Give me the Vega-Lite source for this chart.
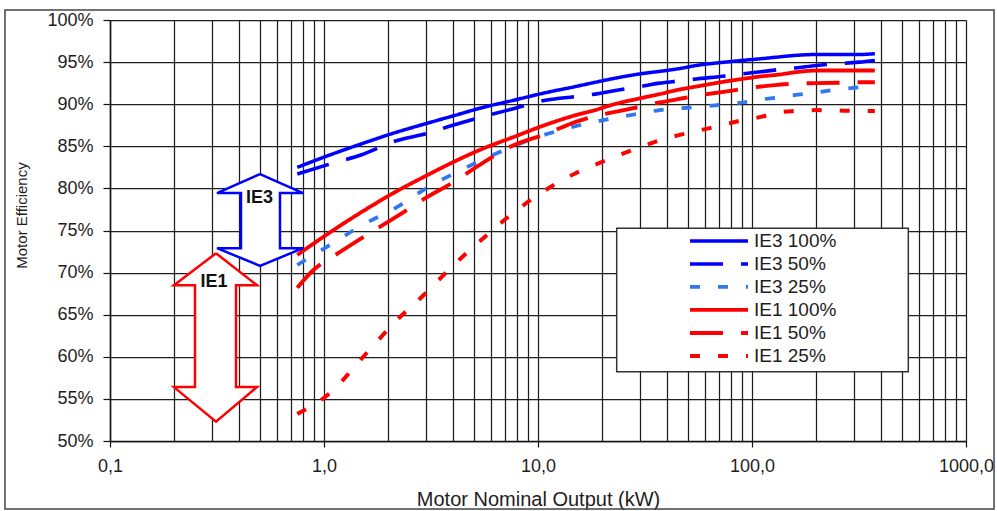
{
  "$schema": "https://vega.github.io/schema/vega-lite/v6.json",
  "width": 856,
  "height": 421,
  "autosize": {"type": "none"},
  "padding": {"left": 110, "top": 20, "right": 31, "bottom": 70},
  "background": "white",
  "config": {
    "view": {"stroke": null},
    "font": "Liberation Sans",
    "axis": {"gridColor": "#1e1e1e", "gridWidth": 1.25, "gridOpacity": 1, "domainColor": "#111111", "domainWidth": 1.5, "tickColor": "#111111", "tickWidth": 1.2, "labelColor": "#1e1e1e", "titleColor": "#1e1e1e", "labelFont": "Liberation Sans", "titleFont": "Liberation Sans", "titleFontWeight": "normal"},
    "legend": {"orient": "none", "legendX": 578, "legendY": 209.6, "padding": 0, "symbolType": "stroke", "symbolSize": 3364, "labelFontSize": 19, "labelFont": "Liberation Sans", "labelColor": "#1e1e1e", "labelOffset": 4, "clipHeight": 22.7, "rowPadding": 0, "strokeColor": null, "fillColor": null}
  },
  "datasets": {
    "frame": [{"kW": 0.0323, "kW2": 1352, "eff": 41.92, "eff2": 101.19}],
    "legendbox": [{"kW": 23.32, "kW2": 537.6, "eff": 58.23, "eff2": 75.26}],
    "arrows": [
      {"arrow": "IE3", "i": 1, "kW": 0.5024, "eff": 81.7},
      {"arrow": "IE3", "i": 2, "kW": 0.7979, "eff": 79.45},
      {"arrow": "IE3", "i": 3, "kW": 0.6228, "eff": 79.45},
      {"arrow": "IE3", "i": 4, "kW": 0.6228, "eff": 72.9},
      {"arrow": "IE3", "i": 5, "kW": 0.7979, "eff": 72.9},
      {"arrow": "IE3", "i": 6, "kW": 0.5024, "eff": 70.8},
      {"arrow": "IE3", "i": 7, "kW": 0.3162, "eff": 72.9},
      {"arrow": "IE3", "i": 8, "kW": 0.4093, "eff": 72.9},
      {"arrow": "IE3", "i": 9, "kW": 0.4093, "eff": 79.45},
      {"arrow": "IE3", "i": 10, "kW": 0.3162, "eff": 79.45},
      {"arrow": "IE3", "i": 11, "kW": 0.5024, "eff": 81.7},
      {"arrow": "IE1", "i": 1, "kW": 0.3128, "eff": 72.3},
      {"arrow": "IE1", "i": 2, "kW": 0.4862, "eff": 68.5},
      {"arrow": "IE1", "i": 3, "kW": 0.388, "eff": 68.5},
      {"arrow": "IE1", "i": 4, "kW": 0.388, "eff": 56.4},
      {"arrow": "IE1", "i": 5, "kW": 0.4862, "eff": 56.4},
      {"arrow": "IE1", "i": 6, "kW": 0.3128, "eff": 52.3},
      {"arrow": "IE1", "i": 7, "kW": 0.199, "eff": 56.4},
      {"arrow": "IE1", "i": 8, "kW": 0.2495, "eff": 56.4},
      {"arrow": "IE1", "i": 9, "kW": 0.2495, "eff": 68.5},
      {"arrow": "IE1", "i": 10, "kW": 0.199, "eff": 68.5},
      {"arrow": "IE1", "i": 11, "kW": 0.3128, "eff": 72.3}
    ],
    "labels": [
      {"label": "IE3", "kW": 0.5, "eff": 78.9},
      {"label": "IE1", "kW": 0.306, "eff": 68.9}
    ],
    "curves": [
      {"series": "IE3 100%", "kW": 0.75, "eff": 82.5},
      {"series": "IE3 100%", "kW": 1.1, "eff": 84.1},
      {"series": "IE3 100%", "kW": 1.5, "eff": 85.3},
      {"series": "IE3 100%", "kW": 2.2, "eff": 86.7},
      {"series": "IE3 100%", "kW": 3, "eff": 87.7},
      {"series": "IE3 100%", "kW": 4, "eff": 88.6},
      {"series": "IE3 100%", "kW": 5.5, "eff": 89.6},
      {"series": "IE3 100%", "kW": 7.5, "eff": 90.4},
      {"series": "IE3 100%", "kW": 11, "eff": 91.4},
      {"series": "IE3 100%", "kW": 15, "eff": 92.1},
      {"series": "IE3 100%", "kW": 18.5, "eff": 92.6},
      {"series": "IE3 100%", "kW": 22, "eff": 93.0},
      {"series": "IE3 100%", "kW": 30, "eff": 93.6},
      {"series": "IE3 100%", "kW": 37, "eff": 93.9},
      {"series": "IE3 100%", "kW": 45, "eff": 94.2},
      {"series": "IE3 100%", "kW": 55, "eff": 94.6},
      {"series": "IE3 100%", "kW": 75, "eff": 95.0},
      {"series": "IE3 100%", "kW": 90, "eff": 95.2},
      {"series": "IE3 100%", "kW": 110, "eff": 95.4},
      {"series": "IE3 100%", "kW": 132, "eff": 95.6},
      {"series": "IE3 100%", "kW": 160, "eff": 95.8},
      {"series": "IE3 100%", "kW": 200, "eff": 95.9},
      {"series": "IE3 100%", "kW": 250, "eff": 95.9},
      {"series": "IE3 100%", "kW": 315, "eff": 95.9},
      {"series": "IE3 100%", "kW": 375, "eff": 96.0},
      {"series": "IE3 50%", "kW": 0.75, "eff": 81.7},
      {"series": "IE3 50%", "kW": 1.1, "eff": 83.0},
      {"series": "IE3 50%", "kW": 1.5, "eff": 84.0},
      {"series": "IE3 50%", "kW": 2.2, "eff": 85.7},
      {"series": "IE3 50%", "kW": 3, "eff": 86.5},
      {"series": "IE3 50%", "kW": 4, "eff": 87.5},
      {"series": "IE3 50%", "kW": 5.5, "eff": 88.5},
      {"series": "IE3 50%", "kW": 7.5, "eff": 89.4},
      {"series": "IE3 50%", "kW": 11, "eff": 90.5},
      {"series": "IE3 50%", "kW": 15, "eff": 90.9},
      {"series": "IE3 50%", "kW": 18.5, "eff": 91.2},
      {"series": "IE3 50%", "kW": 22, "eff": 91.55},
      {"series": "IE3 50%", "kW": 30, "eff": 92.1},
      {"series": "IE3 50%", "kW": 37, "eff": 92.5},
      {"series": "IE3 50%", "kW": 45, "eff": 92.75},
      {"series": "IE3 50%", "kW": 55, "eff": 93.0},
      {"series": "IE3 50%", "kW": 75, "eff": 93.35},
      {"series": "IE3 50%", "kW": 90, "eff": 93.6},
      {"series": "IE3 50%", "kW": 110, "eff": 93.85},
      {"series": "IE3 50%", "kW": 132, "eff": 94.1},
      {"series": "IE3 50%", "kW": 160, "eff": 94.3},
      {"series": "IE3 50%", "kW": 200, "eff": 94.6},
      {"series": "IE3 50%", "kW": 250, "eff": 94.8},
      {"series": "IE3 50%", "kW": 315, "eff": 95.0},
      {"series": "IE3 50%", "kW": 375, "eff": 95.2},
      {"series": "IE3 25%", "kW": 0.75, "eff": 70.9},
      {"series": "IE3 25%", "kW": 1.1, "eff": 73.5},
      {"series": "IE3 25%", "kW": 1.5, "eff": 75.6},
      {"series": "IE3 25%", "kW": 2.2, "eff": 77.8},
      {"series": "IE3 25%", "kW": 3, "eff": 80.0},
      {"series": "IE3 25%", "kW": 4, "eff": 81.7},
      {"series": "IE3 25%", "kW": 5.5, "eff": 83.4},
      {"series": "IE3 25%", "kW": 7.5, "eff": 84.9},
      {"series": "IE3 25%", "kW": 11, "eff": 86.45},
      {"series": "IE3 25%", "kW": 15, "eff": 87.4},
      {"series": "IE3 25%", "kW": 18.5, "eff": 87.9},
      {"series": "IE3 25%", "kW": 22, "eff": 88.3},
      {"series": "IE3 25%", "kW": 30, "eff": 88.9},
      {"series": "IE3 25%", "kW": 37, "eff": 89.3},
      {"series": "IE3 25%", "kW": 45, "eff": 89.5},
      {"series": "IE3 25%", "kW": 55, "eff": 89.65},
      {"series": "IE3 25%", "kW": 75, "eff": 90.0},
      {"series": "IE3 25%", "kW": 90, "eff": 90.2},
      {"series": "IE3 25%", "kW": 110, "eff": 90.55},
      {"series": "IE3 25%", "kW": 132, "eff": 90.8},
      {"series": "IE3 25%", "kW": 160, "eff": 91.1},
      {"series": "IE3 25%", "kW": 200, "eff": 91.4},
      {"series": "IE3 25%", "kW": 250, "eff": 91.75},
      {"series": "IE3 25%", "kW": 315, "eff": 92.0},
      {"series": "IE3 25%", "kW": 375, "eff": 92.2},
      {"series": "IE1 100%", "kW": 0.75, "eff": 72.1},
      {"series": "IE1 100%", "kW": 1.1, "eff": 75.0},
      {"series": "IE1 100%", "kW": 1.5, "eff": 77.2},
      {"series": "IE1 100%", "kW": 2.2, "eff": 79.7},
      {"series": "IE1 100%", "kW": 3, "eff": 81.5},
      {"series": "IE1 100%", "kW": 4, "eff": 83.1},
      {"series": "IE1 100%", "kW": 5.5, "eff": 84.7},
      {"series": "IE1 100%", "kW": 7.5, "eff": 86.0},
      {"series": "IE1 100%", "kW": 11, "eff": 87.6},
      {"series": "IE1 100%", "kW": 15, "eff": 88.7},
      {"series": "IE1 100%", "kW": 18.5, "eff": 89.3},
      {"series": "IE1 100%", "kW": 22, "eff": 89.9},
      {"series": "IE1 100%", "kW": 30, "eff": 90.7},
      {"series": "IE1 100%", "kW": 37, "eff": 91.2},
      {"series": "IE1 100%", "kW": 45, "eff": 91.7},
      {"series": "IE1 100%", "kW": 55, "eff": 92.1},
      {"series": "IE1 100%", "kW": 75, "eff": 92.7},
      {"series": "IE1 100%", "kW": 90, "eff": 93.0},
      {"series": "IE1 100%", "kW": 110, "eff": 93.3},
      {"series": "IE1 100%", "kW": 132, "eff": 93.5},
      {"series": "IE1 100%", "kW": 160, "eff": 93.8},
      {"series": "IE1 100%", "kW": 200, "eff": 94.0},
      {"series": "IE1 100%", "kW": 250, "eff": 94.0},
      {"series": "IE1 100%", "kW": 315, "eff": 94.0},
      {"series": "IE1 100%", "kW": 375, "eff": 94.0},
      {"series": "IE1 50%", "kW": 0.75, "eff": 68.2},
      {"series": "IE1 50%", "kW": 0.9, "eff": 70.4},
      {"series": "IE1 50%", "kW": 1.1, "eff": 71.9},
      {"series": "IE1 50%", "kW": 1.5, "eff": 74.1},
      {"series": "IE1 50%", "kW": 2.2, "eff": 76.7},
      {"series": "IE1 50%", "kW": 3, "eff": 78.9},
      {"series": "IE1 50%", "kW": 4, "eff": 80.7},
      {"series": "IE1 50%", "kW": 5.5, "eff": 83.0},
      {"series": "IE1 50%", "kW": 7.5, "eff": 85.0},
      {"series": "IE1 50%", "kW": 11, "eff": 86.5},
      {"series": "IE1 50%", "kW": 15, "eff": 87.9},
      {"series": "IE1 50%", "kW": 18.5, "eff": 88.6},
      {"series": "IE1 50%", "kW": 22, "eff": 89.0},
      {"series": "IE1 50%", "kW": 30, "eff": 89.7},
      {"series": "IE1 50%", "kW": 37, "eff": 90.2},
      {"series": "IE1 50%", "kW": 45, "eff": 90.6},
      {"series": "IE1 50%", "kW": 55, "eff": 91.0},
      {"series": "IE1 50%", "kW": 75, "eff": 91.5},
      {"series": "IE1 50%", "kW": 90, "eff": 91.8},
      {"series": "IE1 50%", "kW": 110, "eff": 92.1},
      {"series": "IE1 50%", "kW": 132, "eff": 92.3},
      {"series": "IE1 50%", "kW": 160, "eff": 92.45},
      {"series": "IE1 50%", "kW": 200, "eff": 92.5},
      {"series": "IE1 50%", "kW": 250, "eff": 92.55},
      {"series": "IE1 50%", "kW": 315, "eff": 92.6},
      {"series": "IE1 50%", "kW": 375, "eff": 92.6},
      {"series": "IE1 25%", "kW": 0.75, "eff": 53.2},
      {"series": "IE1 25%", "kW": 1.1, "eff": 56.0},
      {"series": "IE1 25%", "kW": 1.5, "eff": 59.8},
      {"series": "IE1 25%", "kW": 2.2, "eff": 64.4},
      {"series": "IE1 25%", "kW": 3, "eff": 67.6},
      {"series": "IE1 25%", "kW": 4, "eff": 70.8},
      {"series": "IE1 25%", "kW": 5.5, "eff": 74.0},
      {"series": "IE1 25%", "kW": 7.5, "eff": 76.9},
      {"series": "IE1 25%", "kW": 11, "eff": 79.9},
      {"series": "IE1 25%", "kW": 15, "eff": 81.8},
      {"series": "IE1 25%", "kW": 18.5, "eff": 82.8},
      {"series": "IE1 25%", "kW": 22, "eff": 83.6},
      {"series": "IE1 25%", "kW": 30, "eff": 84.9},
      {"series": "IE1 25%", "kW": 37, "eff": 85.7},
      {"series": "IE1 25%", "kW": 45, "eff": 86.3},
      {"series": "IE1 25%", "kW": 55, "eff": 86.8},
      {"series": "IE1 25%", "kW": 75, "eff": 87.6},
      {"series": "IE1 25%", "kW": 90, "eff": 88.1},
      {"series": "IE1 25%", "kW": 110, "eff": 88.5},
      {"series": "IE1 25%", "kW": 132, "eff": 89.0},
      {"series": "IE1 25%", "kW": 160, "eff": 89.2},
      {"series": "IE1 25%", "kW": 200, "eff": 89.3},
      {"series": "IE1 25%", "kW": 250, "eff": 89.25},
      {"series": "IE1 25%", "kW": 315, "eff": 89.2},
      {"series": "IE1 25%", "kW": 375, "eff": 89.2}
    ]
  },
  "layer": [
    {
      "data": {"name": "frame"},
      "mark": {"type": "rect", "fill": null, "filled": false, "stroke": "#444444", "strokeWidth": 1.5, "clip": false},
      "encoding": {
        "x": {"field": "kW", "type": "quantitative", "title": "Motor Nominal Output (kW)", "scale": {"type": "log", "domain": [0.1, 1000], "nice": false}},
        "x2": {"field": "kW2"},
        "y": {"field": "eff", "type": "quantitative", "title": "Motor Efficiency", "scale": {"domain": [50, 100], "nice": false, "zero": false}},
        "y2": {"field": "eff2"}
      }
    },
    {
      "data": {"name": "legendbox"},
      "mark": {"type": "rect", "fill": "white", "stroke": "#333333", "strokeWidth": 1.5},
      "encoding": {
        "x": {"field": "kW", "type": "quantitative", "title": "Motor Nominal Output (kW)", "scale": {"type": "log", "domain": [0.1, 1000], "nice": false}},
        "x2": {"field": "kW2"},
        "y": {"field": "eff", "type": "quantitative", "title": "Motor Efficiency", "scale": {"domain": [50, 100], "nice": false, "zero": false}},
        "y2": {"field": "eff2"}
      }
    },
    {
      "data": {"name": "curves"},
      "mark": {"type": "line", "interpolate": "monotone", "strokeCap": "butt"},
      "encoding": {
        "x": {
          "field": "kW", "type": "quantitative", "title": "Motor Nominal Output (kW)",
          "scale": {"type": "log", "domain": [0.1, 1000], "nice": false},
          "axis": {
            "values": [0.1, 0.2, 0.3, 0.4, 0.5, 0.6, 0.7, 0.8, 0.9, 1, 2, 3, 4, 5, 6, 7, 8, 9, 10, 20, 30, 40, 50, 60, 70, 80, 90, 100, 200, 300, 400, 500, 600, 700, 800, 900, 1000],
            "grid": true,
            "tickSize": 6,
            "tickOpacity": {"condition": {"test": "abs(log(datum.value)/LN10 - round(log(datum.value)/LN10)) < 0.001", "value": 1}, "value": 0},
            "labelExpr": "abs(log(datum.value)/LN10 - round(log(datum.value)/LN10)) < 0.001 ? replace(format(datum.value, '.1f'), '.', ',') : ''",
            "labelFlush": false,
            "labelOverlap": false,
            "labelFontSize": 18,
            "labelBaseline": "middle",
            "labelPadding": 19,
            "titleFontSize": 20,
            "titleBaseline": "middle",
            "titleY": 58
          }
        },
        "y": {
          "field": "eff", "type": "quantitative", "title": "Motor Efficiency",
          "scale": {"domain": [50, 100], "nice": false, "zero": false},
          "axis": {
            "values": [50, 55, 60, 65, 70, 75, 80, 85, 90, 95, 100],
            "grid": true,
            "tickSize": 7,
            "labelPadding": 10,
            "labelFontSize": 18,
            "labelExpr": "datum.value + '%'",
            "titleFontSize": 15,
            "titleBaseline": "middle",
            "titleX": -89,
            "titleY": 195
          }
        },
        "color": {
          "field": "series", "type": "nominal", "title": null,
          "scale": {"domain": ["IE3 100%", "IE3 50%", "IE3 25%", "IE1 100%", "IE1 50%", "IE1 25%"], "range": ["#0000ff", "#0000ff", "#3377f0", "#ff0000", "#ff0000", "#ff0000"]}
        },
        "strokeDash": {
          "field": "series", "type": "nominal", "title": null,
          "scale": {"domain": ["IE3 100%", "IE3 50%", "IE3 25%", "IE1 100%", "IE1 50%", "IE1 25%"], "range": [[1, 0], [33, 18], [10, 18], [1, 0], [33, 18], [10, 18]]}
        },
        "strokeWidth": {
          "field": "series", "type": "nominal", "title": null,
          "scale": {"domain": ["IE3 100%", "IE3 50%", "IE3 25%", "IE1 100%", "IE1 50%", "IE1 25%"], "range": [3.5, 4, 3.5, 3.5, 4.5, 4.5]}
        }
      }
    },
    {
      "data": {"name": "arrows"},
      "transform": [{"filter": "datum.arrow == 'IE3'"}],
      "mark": {"type": "line", "stroke": "#0000ff", "fill": "white", "strokeWidth": 2.5, "strokeJoin": "miter"},
      "encoding": {
        "x": {"field": "kW", "type": "quantitative", "title": "Motor Nominal Output (kW)", "scale": {"type": "log", "domain": [0.1, 1000], "nice": false}},
        "y": {"field": "eff", "type": "quantitative", "title": "Motor Efficiency", "scale": {"domain": [50, 100], "nice": false, "zero": false}},
        "order": {"field": "i", "type": "quantitative"}
      }
    },
    {
      "data": {"name": "arrows"},
      "transform": [{"filter": "datum.arrow == 'IE1'"}],
      "mark": {"type": "line", "stroke": "#ff0000", "fill": "white", "strokeWidth": 2.5, "strokeJoin": "miter"},
      "encoding": {
        "x": {"field": "kW", "type": "quantitative", "title": "Motor Nominal Output (kW)", "scale": {"type": "log", "domain": [0.1, 1000], "nice": false}},
        "y": {"field": "eff", "type": "quantitative", "title": "Motor Efficiency", "scale": {"domain": [50, 100], "nice": false, "zero": false}},
        "order": {"field": "i", "type": "quantitative"}
      }
    },
    {
      "data": {"name": "labels"},
      "mark": {"type": "text", "font": "Liberation Sans", "fontSize": 18, "fontWeight": "bold", "color": "#111111", "align": "center", "baseline": "middle"},
      "encoding": {
        "x": {"field": "kW", "type": "quantitative", "title": "Motor Nominal Output (kW)", "scale": {"type": "log", "domain": [0.1, 1000], "nice": false}},
        "y": {"field": "eff", "type": "quantitative", "title": "Motor Efficiency", "scale": {"domain": [50, 100], "nice": false, "zero": false}},
        "text": {"field": "label"}
      }
    }
  ]
}
